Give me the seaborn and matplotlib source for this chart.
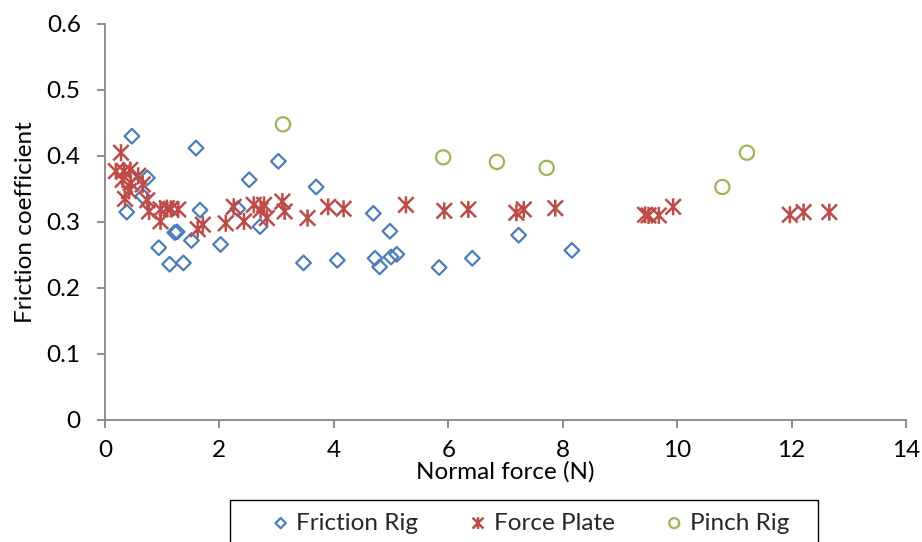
import matplotlib
matplotlib.use("Agg")
import matplotlib.pyplot as plt
from matplotlib.path import Path
from matplotlib.patches import Rectangle
import seaborn as sns
import pandas as pd

# ---- data ----
friction_x = [0.47, 1.59, 0.74, 2.52, 3.03, 3.69, 0.66, 0.38, 1.66, 2.32, 2.71, 1.22, 1.26, 1.51, 2.02,
              0.94, 1.13, 1.37, 3.47, 4.06, 4.69, 4.98, 4.72, 4.80, 5.00, 5.10, 5.84, 6.42, 7.23, 8.16]
friction_y = [0.430, 0.412, 0.367, 0.364, 0.392, 0.353, 0.339, 0.315, 0.318, 0.320, 0.293, 0.284, 0.285, 0.272, 0.266,
              0.261, 0.236, 0.238, 0.238, 0.242, 0.313, 0.286, 0.245, 0.232, 0.247, 0.251, 0.231, 0.245, 0.280, 0.257]

force_x = [0.28, 0.19, 0.33, 0.44, 0.58, 0.31, 0.45, 0.66, 0.42, 0.35, 0.74, 0.77, 0.97, 1.08, 1.15,
           1.28, 0.97, 1.62, 1.71, 2.11, 2.25, 2.43, 2.60, 2.78, 2.72, 2.83, 3.10, 3.14, 3.54, 3.90,
           4.17, 5.26, 5.93, 6.35, 7.19, 7.32, 7.87, 9.44, 9.50, 9.68, 9.93, 11.97, 12.21, 12.66]
force_y = [0.405, 0.377, 0.377, 0.379, 0.370, 0.364, 0.359, 0.357, 0.347, 0.335, 0.333, 0.316, 0.319, 0.321, 0.320,
           0.319, 0.301, 0.289, 0.296, 0.298, 0.323, 0.301, 0.326, 0.326, 0.318, 0.306, 0.331, 0.316, 0.306, 0.323,
           0.320, 0.326, 0.317, 0.319, 0.314, 0.319, 0.321, 0.311, 0.310, 0.310, 0.323, 0.311, 0.315, 0.315]

pinch_x = [3.11, 5.91, 6.85, 7.72, 10.79, 11.22]
pinch_y = [0.448, 0.398, 0.391, 0.382, 0.353, 0.405]

series_names = ["Friction Rig", "Force Plate", "Pinch Rig"]
x_ticks = [0, 2, 4, 6, 8, 10, 12, 14]
y_ticks = [0, 0.1, 0.2, 0.3, 0.4, 0.5, 0.6]

colors = {"Friction Rig": "#4A7EBB", "Force Plate": "#BE4B48", "Pinch Rig": "#98B954"}

# star marker: X plus vertical line (Excel style)
star = Path([(-1, -1), (1, 1), (-1, 1), (1, -1), (0, -1.1), (0, 1.1)],
            [Path.MOVETO, Path.LINETO, Path.MOVETO, Path.LINETO, Path.MOVETO, Path.LINETO])

df_f = pd.DataFrame({"x": friction_x, "y": friction_y})
df_p = pd.DataFrame({"x": force_x, "y": force_y})
df_c = pd.DataFrame({"x": pinch_x, "y": pinch_y})

sns.set_theme(style="white")
plt.rcParams['font.family'] = ['Lato', 'DejaVu Sans']

FS = 17.5
fig = plt.figure(figsize=(9.22, 5.42), dpi=100)
ax = fig.add_axes([105 / 922, 1 - 420 / 542, (906 - 105) / 922, (420 - 24) / 542])

sns.scatterplot(data=df_f, x="x", y="y", ax=ax, marker="D", s=56, facecolors="none",
                edgecolors=colors["Friction Rig"], linewidths=1.6, label=series_names[0], zorder=3)
sns.scatterplot(data=df_p, x="x", y="y", ax=ax, marker=star, s=150, facecolors="none",
                edgecolors=colors["Force Plate"], linewidths=1.8, label=series_names[1], zorder=3)
sns.scatterplot(data=df_c, x="x", y="y", ax=ax, marker="o", s=105, facecolors="none",
                edgecolors=colors["Pinch Rig"], linewidths=1.6, label=series_names[2], zorder=3)

ax.set_xlim(0, 14)
ax.set_ylim(0, 0.6)
ax.set_xticks(x_ticks)
ax.set_xticklabels([str(t) for t in x_ticks])
ax.set_yticks(y_ticks)
ax.set_yticklabels(["0" if t == 0 else f"{t:.1f}" for t in y_ticks])

for s in ["top", "right"]:
    ax.spines[s].set_visible(False)
for s in ["left", "bottom"]:
    ax.spines[s].set_color("#868686")
    ax.spines[s].set_linewidth(1.3)

ax.tick_params(axis="both", which="major", direction="out", length=5.5, width=1.3,
               color="#868686", labelsize=FS, labelcolor="black",
               bottom=True, left=True)
ax.tick_params(axis="x", pad=9)
ax.tick_params(axis="y", pad=12)
ax.set_xlabel("Normal force (N)", fontsize=FS, color="black", labelpad=0)
ax.set_ylabel("Friction coefficient", fontsize=FS, color="black", labelpad=8)

leg_handles, leg_labels = ax.get_legend_handles_labels()
ax.get_legend().remove()
leg = fig.legend(leg_handles, leg_labels, loc="center", bbox_to_anchor=(532 / 922, 1 - 523 / 542),
                 ncol=3, frameon=False, fontsize=FS, handlelength=0.5, handletextpad=0.4,
                 columnspacing=2.2, borderpad=0.0, markerscale=0.7, borderaxespad=0)

# legend box (bottom edge runs off the figure as in the reference)
fig.patches.append(Rectangle((230 / 922, -0.05), (818 - 230) / 922, (1 - 500 / 542) + 0.05,
                             transform=fig.transFigure, fill=False, edgecolor="black",
                             linewidth=1.0, zorder=5))

fig.savefig("out.png", dpi=100)
